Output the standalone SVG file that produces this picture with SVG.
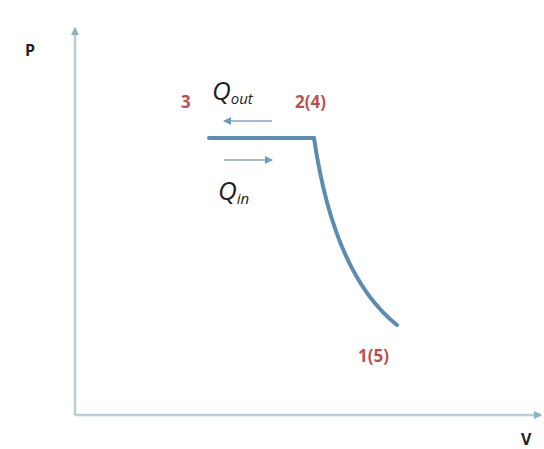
<svg xmlns="http://www.w3.org/2000/svg" width="544" height="449" viewBox="0 0 544 449">
<style>
.axis{stroke:#b9cdd6;stroke-width:2.5;fill:none}
.proc{stroke:#5b8db1;stroke-width:4;fill:none;stroke-linecap:round}
.harr{stroke:#7fa6c2;stroke-width:1.5;fill:none}
.pt{font-family:"Open Sans","Liberation Sans",sans-serif;font-weight:bold;font-size:17px;fill:#c0504d}
.ax{font-family:"Open Sans","Liberation Sans",sans-serif;font-weight:bold;font-size:16px;fill:#222}
.q{font-family:"Open Sans","Liberation Sans",sans-serif;font-style:italic;font-size:26px;fill:#222}
.qs{font-size:15px}
</style>
<defs>
<marker id="ah" markerWidth="8" markerHeight="8" refX="7" refY="4" orient="auto" markerUnits="userSpaceOnUse">
<path d="M0,0 L8,4 L0,8 z" fill="#8eb0c6"/>
</marker>
<marker id="sh" markerWidth="8" markerHeight="8" refX="7" refY="4" orient="auto" markerUnits="userSpaceOnUse">
<path d="M0,0 L8,4 L0,8 z" fill="#6f9bbb"/>
</marker>
</defs>
<g id="connectors">
<path class="axis" d="M75,415 L75,28" marker-end="url(#ah)"/>
<path class="axis" d="M75,415 L541,415" marker-end="url(#ah)"/>
<path class="proc" d="M209,138 L314,138"/>
<path class="proc" d="M314,138 Q334,275 397,325"/>
<path class="harr" d="M272,121 L224,121" marker-end="url(#sh)"/>
<path class="harr" d="M224,160 L272,160" marker-end="url(#sh)"/>
</g>
<g id="axis-labels">
<text class="ax" x="25" y="56">P</text>
<text class="ax" x="521" y="445">V</text>
</g>
<g id="node-3"><text class="pt" x="181" y="108">3</text></g>
<g id="node-2-4"><text class="pt" x="295" y="108">2(4)</text></g>
<g id="node-1-5"><text class="pt" x="358" y="362">1(5)</text></g>
<g id="q-out"><text class="q" x="212" y="100">Q<tspan class="qs" dy="4">out</tspan></text></g>
<g id="q-in"><text class="q" x="218" y="200">Q<tspan class="qs" dy="4">in</tspan></text></g>
</svg>
